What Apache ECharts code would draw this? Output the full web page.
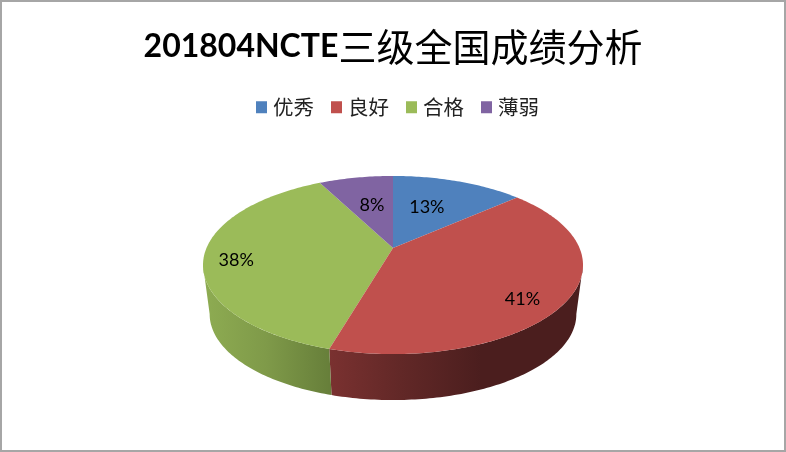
<!DOCTYPE html>
<html>
<head>
<meta charset="utf-8">
<style>html,body{margin:0;padding:0;background:#fff}#c{width:786px;height:452px}</style>
<script src="https://cdn.jsdelivr.net/npm/echarts@6/dist/echarts.min.js"></script>
</head>
<body>
<div id="c"></div>
<script>
const categories = ['优秀', '良好', '合格', '薄弱'];
const values = [13.49, 41.01, 37.9, 7.6];
const titleLatin = '201804NCTE';
const titleCJK = '三级全国成绩分析';

const topColors = ['#4f81bd', '#c0504d', '#9bbb59', '#8064a2'];
const wallStops = [
  [[0, '#2f4d72'], [1, '#2f4d72']],
  [[0, '#7a3130'], [0.28, '#622827'], [0.6, '#4b1e1e'], [1, '#4b1e1e']],
  [[0, '#8eac52'], [0.5, '#7f9a49'], [1, '#677f3a']],
  [[0, '#4d3c61'], [1, '#4d3c61']]
];
// label placement inside each slice: fraction of the radius, and turn (degrees) from the slice's middle
const labelRadius = [0.56, 0.823, 0.83, 0.568];
const labelTurn = [-3.4, 8.4, -4.2, 1];

const total = values.reduce((a, b) => a + b, 0);
const starts = values.map((_, i) => values.slice(0, i).reduce((a, b) => a + b, 0) / total);
const VIEW = { cx: 393, cy: 248, R: 186.5, a: 85.8, p: 0.191, lowerScale: 0.965, lowerShift: 49.7 };
// the wall is only seen between the two silhouette angles of the projected rim
const wallFrom = Math.acos(-VIEW.p);
const wallTo = 2 * Math.PI - wallFrom;

function project(angle, r, lower) {
  const u = r * Math.sin(angle), v = -r * Math.cos(angle), w = 1 - VIEW.p * v;
  const s = lower ? VIEW.lowerScale : 1;
  return [VIEW.cx + s * VIEW.R * u / w, VIEW.cy + (lower ? VIEW.lowerShift : 0) + s * VIEW.a * v / w];
}
function rim(a0, a1, lower) {
  const n = Math.max(2, Math.ceil((a1 - a0) * 60)), pts = [];
  for (let k = 0; k <= n; k++) pts.push(project(a0 + (a1 - a0) * k / n, 1, lower));
  return pts;
}
function renderSlice(i) {
  return function (params, api) {
    const a0 = starts[i] * 2 * Math.PI;
    const a1 = (starts[i] + api.value(0) / total) * 2 * Math.PI;
    const topRim = rim(a0, a1, false);
    const mid = (a0 + a1) / 2 + labelTurn[i] * Math.PI / 180;
    const lp = project(mid, labelRadius[i], false);
    const children = [
      { type: 'polygon', z2: i === 1 ? 3 : 2, shape: { points: [[VIEW.cx, VIEW.cy]].concat(topRim) },
        style: { fill: topColors[i] } },
      { type: 'text', z2: 5, x: lp[0], y: lp[1],
        style: { text: Math.round(api.value(0)) + '%', fill: '#000', align: 'center', verticalAlign: 'middle',
                 font: '18px Lato, sans-serif' } }
    ];
    const w0 = Math.max(a0, wallFrom), w1 = Math.min(a1, wallTo);
    if (w1 > w0) {
      const upper = rim(w0, w1, false);
      const xs = upper.map(p => p[0]);
      const stops = wallStops[i].map(s => ({ offset: s[0], color: s[1] }));
      children.push({ type: 'polygon', z2: 1, shape: { points: upper.concat(rim(w0, w1, true).reverse()) },
        style: { fill: new echarts.graphic.LinearGradient(Math.min.apply(null, xs), 0, Math.max.apply(null, xs), 0, stops, true) } });
    }
    return { type: 'group', children };
  };
}

const chart = echarts.init(document.getElementById('c'), null, { renderer: 'canvas' });
chart.setOption({
  animation: false,
  backgroundColor: '#fff',
  color: topColors,
  title: {
    text: '{a|' + titleLatin + '}{b|' + titleCJK + '}',
    left: 'center', top: 15,
    textStyle: {
      rich: {
        a: { fontFamily: 'Lato', fontWeight: 'bold', fontSize: 32, color: '#000', lineHeight: 54 },
        b: { fontFamily: '"Noto Sans CJK SC"', fontWeight: 'normal', fontSize: 38, color: '#000', lineHeight: 54 }
      }
    }
  },
  legend: {
    left: 251, top: 92, icon: 'rect', itemWidth: 11, itemHeight: 12, itemGap: 17,
    data: categories,
    textStyle: { fontFamily: '"Noto Sans CJK SC"', fontSize: 20.5, color: '#222', padding: [0, 0, 0, 1] }
  },
  graphic: [{
    type: 'rect', silent: true, z: 100,
    shape: { x: 1, y: 1, width: 784, height: 450 },
    style: { fill: 'none', stroke: '#a6a6a6', lineWidth: 2 }
  }],
  series: categories.map((name, i) => ({
    type: 'custom', name, coordinateSystem: 'none',
    itemStyle: { color: topColors[i] },
    data: [[values[i]]],
    renderItem: renderSlice(i)
  }))
});
</script>
</body>
</html>
